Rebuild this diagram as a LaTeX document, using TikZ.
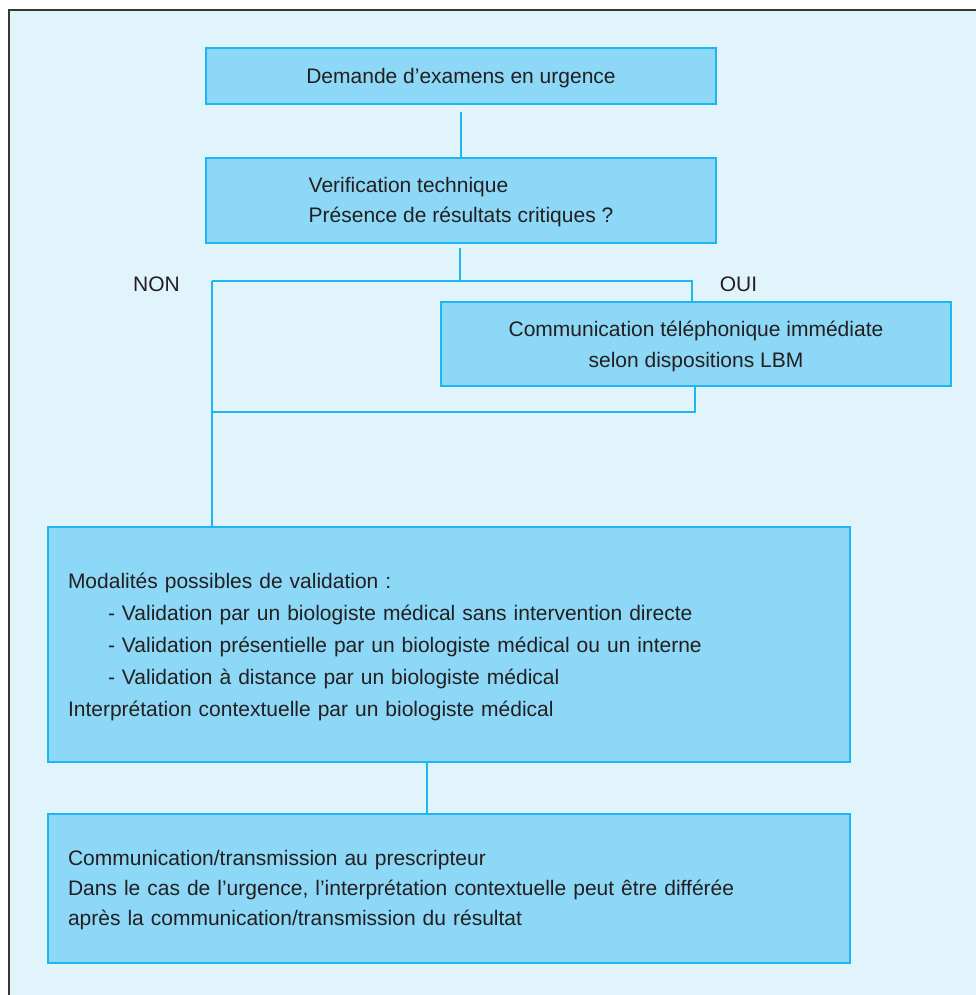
\documentclass[tikz,border=0pt]{standalone}
\usepackage{fontspec}
\setmainfont{Liberation Sans}
\definecolor{bgblue}{HTML}{E1F3FB}
\definecolor{boxfill}{HTML}{8DD8F6}
\definecolor{boxline}{HTML}{1BB7EE}
\definecolor{txt}{HTML}{231F20}
\definecolor{framec}{HTML}{3A3537}
\begin{document}
\begin{tikzpicture}[x=1pt,y=-1pt,
  box/.style={draw=boxline, fill=boxfill, line width=1.5pt, rectangle, inner sep=0pt},
  boxtext/.style={text=txt, inner sep=0pt, yshift=-2pt, font=\fontsize{21}{30}\selectfont},
  conn/.style={draw=boxline, line width=1.5pt},
  lbl/.style={text=txt, font=\fontsize{21}{30}\selectfont, inner sep=0pt}]
\useasboundingbox (0,0) rectangle (976,995);
\fill[white] (0,0) rectangle (976,995);
\fill[bgblue] (8.5,10.5) rectangle (976,995);
\draw[framec, line width=2pt] (8.5,995) -- (8.5,10.5) -- (976,10.5);

\node[box, minimum width=510pt, minimum height=56pt,
  label={[boxtext]center:Demande d’examens en urgence}] (b1) at (461,76) {};
\node[box, minimum width=510pt, minimum height=85pt,
  label={[boxtext, align=left]center:{Verification technique\\Présence de résultats critiques ?}}] (b2) at (461,200.5) {};
\node[box, minimum width=510pt, minimum height=84pt,
  label={[boxtext, align=center, font=\fontsize{21}{31}\selectfont]center:{Communication téléphonique immédiate\\selon dispositions LBM}}] (b3) at (696,344) {};
\node[box, minimum width=802pt, minimum height=235pt,
  label={[boxtext, text width=762pt, align=left, font=\fontsize{21}{32}\selectfont]center:{Modalités possibles de validation :\\
   \hspace*{40pt}- Validation par un biologiste médical sans intervention directe\\
   \hspace*{40pt}- Validation présentielle par un biologiste médical ou un interne\\
   \hspace*{40pt}- Validation à distance par un biologiste médical\\
   Interprétation contextuelle par un biologiste médical}}] (b4) at (449,644.5) {};
\node[box, minimum width=802pt, minimum height=149pt,
  label={[boxtext, text width=762pt, align=left]center:{Communication/transmission au prescripteur\\
   Dans le cas de l’urgence, l’interprétation contextuelle peut être différée\\
   après la communication/transmission du résultat}}] (b5) at (449,888.5) {};

\node[lbl] (non) at (156.5,284) {NON};
\node[lbl] (oui) at (738.5,284) {OUI};

\coordinate (split) at (460,281);
\coordinate (nonL) at (212,281);
\coordinate (ouiR) at (692,281);
\coordinate (joinL) at (212,412);
\coordinate (joinR) at (695,412);

\draw[conn, shorten <=7pt] (461,0 |- b1.south) -- (461,0 |- b2.north);
\draw[conn, shorten <=4pt] (460,0 |- b2.south) -- (split);
\draw[conn] (nonL) -- (ouiR) -- (ouiR |- b3.north);
\draw[conn] (695,0 |- b3.south) -- (joinR) -- (joinL);
\draw[conn] (nonL) -- (nonL |- b4.north);
\draw[conn] (427,0 |- b4.south) -- (427,0 |- b5.north);
\end{tikzpicture}
\end{document}
